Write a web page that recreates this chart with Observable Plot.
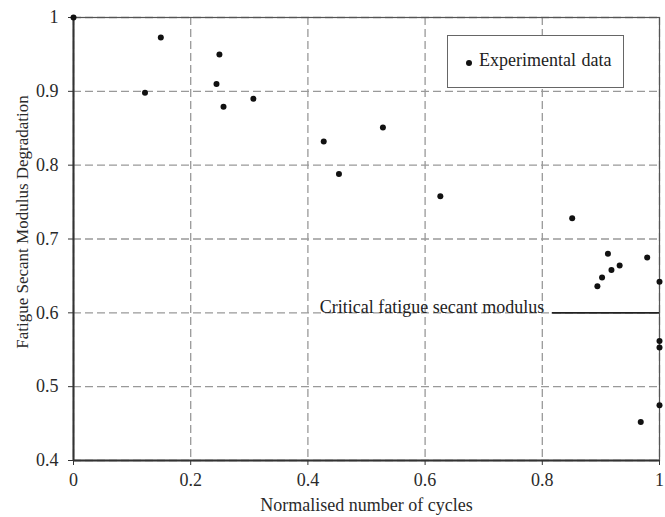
<!DOCTYPE html>
<html><head><meta charset="utf-8">
<script src="https://cdn.jsdelivr.net/npm/d3@7"></script>
<script src="https://cdn.jsdelivr.net/npm/@observablehq/plot@0.6"></script>
<style>
body{margin:0;background:#fff;}
#wrap{position:relative;width:665px;height:517px;font-family:"Liberation Serif",serif;}
#legend{position:absolute;left:447px;top:35px;width:177px;height:53px;border:1px solid #666;background:#fff;box-sizing:border-box;font-size:18px;color:#222;}
#legend .dot{position:absolute;left:18px;top:24px;width:6px;height:6px;border-radius:50%;background:#111;}
#legend .lbl{position:absolute;left:31px;top:14px;white-space:nowrap;word-spacing:1px;}
</style></head><body><div id="wrap"></div>
<script>
const cycles = [0, 0.122, 0.149, 0.249, 0.244, 0.256, 0.307, 0.427, 0.453, 0.528, 0.626, 0.851, 0.912, 0.979, 0.932, 0.918, 0.902, 0.894, 1.0, 1.0, 1.0, 1.0, 0.968];
const modulus = [1.0, 0.898, 0.973, 0.950, 0.910, 0.879, 0.890, 0.832, 0.788, 0.851, 0.758, 0.728, 0.680, 0.675, 0.664, 0.658, 0.648, 0.636, 0.642, 0.562, 0.553, 0.475, 0.452];
const xTicks = [0, 0.2, 0.4, 0.6, 0.8, 1];
const yTicks = [0.4, 0.5, 0.6, 0.7, 0.8, 0.9, 1];
const criticalModulus = 0.6;
const criticalStart = 0.817;
const criticalEnd = 1;
const criticalLabel = "Critical fatigue secant modulus";
const xLabel = "Normalised number of cycles";
const yLabel = "Fatigue Secant Modulus Degradation";
const seriesName = "Experimental data";

const data = cycles.map((c, i) => ({x: c, y: modulus[i]}));
const fmt = d => String(+d.toFixed(1));

const chart = Plot.plot({
  width: 665,
  height: 517,
  marginLeft: 73,
  marginRight: 6,
  marginTop: 17,
  marginBottom: 57,
  style: {fontFamily: "'Liberation Serif', serif", fontSize: "18px", color: "#2a2a2a", background: "#fff", overflow: "visible"},
  x: {domain: [0, 1]},
  y: {domain: [0.4, 1]},
  marks: [
    Plot.gridX(xTicks, {stroke: "#999", strokeOpacity: 1, strokeWidth: 1.3, strokeDasharray: "8,4"}),
    Plot.gridY(yTicks, {stroke: "#999", strokeOpacity: 1, strokeWidth: 1.3, strokeDasharray: "8,4"}),
    Plot.frame({stroke: "#555", strokeWidth: 1.2}),
    Plot.ruleX([0], {stroke: "#333", strokeWidth: 2}),
    Plot.ruleY([0.4], {stroke: "#333", strokeWidth: 2}),
    Plot.axisX({ticks: xTicks, tickFormat: fmt, tickSize: 5, tickPadding: 8, stroke: "#333", fill: "#2a2a2a", fontSize: 18,
      label: xLabel, labelAnchor: "center", labelOffset: 50, labelArrow: "none"}),
    Plot.axisY({ticks: yTicks, tickFormat: fmt, tickSize: 5, tickPadding: 10, stroke: "#333", fill: "#2a2a2a", fontSize: 18, label: null}),
    Plot.text([yLabel], {text: d => d, frameAnchor: "left", textAnchor: "middle", rotate: -90, dx: -51, dy: -17, fill: "#2a2a2a", fontSize: 17}),
    Plot.ruleY([criticalModulus], {x1: criticalStart, x2: criticalEnd, stroke: "#222", strokeWidth: 1.8}),
    Plot.text([criticalLabel], {x: criticalStart, y: criticalModulus, text: d => d, textAnchor: "end", lineAnchor: "bottom", dx: -8, dy: 0, fill: "#222", fontSize: 18}),
    Plot.dot(data, {x: "x", y: "y", r: 3, fill: "#111", stroke: "none"})
  ]
});
const wrap = document.getElementById("wrap");
wrap.appendChild(chart);
const leg = document.createElement("div");
leg.id = "legend";
leg.innerHTML = `<span class="dot"></span><span class="lbl"></span>`;
leg.querySelector(".lbl").textContent = seriesName;
wrap.appendChild(leg);
</script>
</body></html>
